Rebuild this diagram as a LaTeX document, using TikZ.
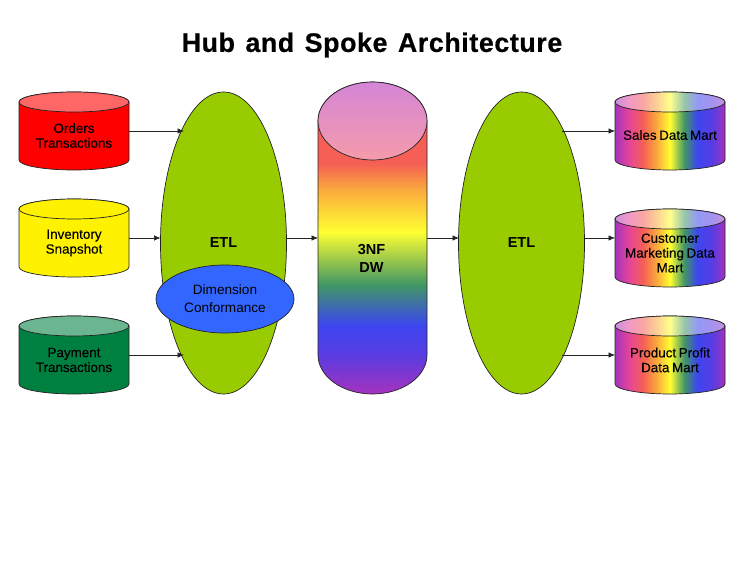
\documentclass[tikz,border=0pt]{standalone}
\usepackage{fontspec}
\setmainfont{Liberation Sans}
\newfontfamily\titlefont[LetterSpace=2.2,WordSpace=1.3,FakeBold=0.5]{Liberation Sans Bold}
\newfontfamily\labelfont[WordSpace=0.7,FakeBold=0.2]{Liberation Sans}
\usetikzlibrary{shapes.geometric,arrows.meta}
\definecolor{rbPurple}{RGB}{165,50,190}
\definecolor{rbPink}{RGB}{230,70,150}
\definecolor{rbRed}{RGB}{245,95,85}
\definecolor{rbOrange}{RGB}{250,170,60}
\definecolor{rbYellow}{RGB}{255,255,50}
\definecolor{rbGreen}{RGB}{65,150,100}
\definecolor{rbBlue}{RGB}{60,70,240}
\definecolor{rbViolet}{RGB}{90,60,225}
\definecolor{dwTopA}{RGB}{212,133,214}
\definecolor{dwTopB}{RGB}{245,155,170}
\definecolor{etlGreen}{RGB}{153,204,0}
\definecolor{confBlue}{RGB}{51,102,255}
\definecolor{payGreen}{RGB}{0,128,64}
\definecolor{outline}{RGB}{35,35,35}
\pgfdeclarehorizontalshading{martSide}{100bp}{color(0bp)=(rbPurple); color(25bp)=(rbPurple); color(31.7bp)=(rbPink); color(37.8bp)=(rbRed); color(44bp)=(rbOrange); color(50bp)=(rbYellow); color(56.5bp)=(rbGreen); color(62.5bp)=(rbBlue); color(69.5bp)=(rbViolet); color(75bp)=(rbPurple); color(100bp)=(rbPurple)}
\pgfdeclarehorizontalshading{martTop}{100bp}{color(0bp)=(rbPurple!55!white); color(25bp)=(rbPurple!55!white); color(31.7bp)=(rbPink!55!white); color(37.8bp)=(rbRed!55!white); color(44bp)=(rbOrange!55!white); color(50bp)=(rbYellow!55!white); color(56.5bp)=(rbGreen!55!white); color(62.5bp)=(rbBlue!55!white); color(69.5bp)=(rbViolet!55!white); color(75bp)=(rbPurple!55!white); color(100bp)=(rbPurple!55!white)}
\pgfdeclareverticalshading{dwSide}{100bp}{color(0bp)=(rbPurple); color(25bp)=(rbPurple); color(31.2bp)=(rbViolet); color(36bp)=(rbBlue); color(42.5bp)=(rbGreen); color(51bp)=(rbYellow); color(57.7bp)=(rbOrange); color(62bp)=(rbRed); color(75bp)=(rbRed); color(100bp)=(rbRed)}
\pgfdeclareverticalshading{dwTop}{100bp}{color(0bp)=(dwTopB); color(25bp)=(dwTopB); color(75bp)=(dwTopA); color(100bp)=(dwTopA)}
\tikzset{
  drumbox/.style={shape=rectangle, inner sep=0pt, outer sep=0pt},
  drumline/.style={draw=outline, line width=0.7pt},
  label11/.style={align=center, font=\fontsize{13.4}{14.8}\labelfont, inner sep=0pt},
  blob/.style={shape=ellipse, draw=outline, line width=0.7pt, fill=etlGreen, inner sep=0pt, outer sep=0pt, minimum width=126pt, minimum height=302pt, font=\fontsize{14.5}{18}\selectfont\bfseries},
  flow/.style={-{Latex[length=6.5pt,width=5.5pt]}, draw=outline, line width=0.7pt},
}
% name, x, y, half width, half height, end radius, side fill, top fill
\newcommand{\drum}[8]{%
  \node[drumbox, minimum width={2*#4}, minimum height={2*#5}] (#1) at (#2,#3) {};
  \path[drumline, #7] ({#2-#4},{#3+#5-#6}) -- ({#2-#4},{#3-#5+#6})
    arc[start angle=180, end angle=360, x radius=#4, y radius=#6]
    -- ({#2+#4},{#3+#5-#6})
    arc[start angle=0, end angle=180, x radius=#4, y radius=#6] -- cycle;
  \path[drumline, #8] (#2,{#3+#5-#6}) ellipse [x radius=#4, y radius=#6];
}
\begin{document}
\begin{tikzpicture}[x=1pt, y=1pt]
\useasboundingbox (0,0) rectangle (750,563);
\node[font=\fontsize{26.8}{28}\titlefont, inner sep=0pt] (title) at (372,518) {Hub and Spoke Architecture};

\drum{orders}{74}{432}{55}{39}{10}{fill=red}{fill=red!60!white}
\drum{inventory}{74}{325}{55}{39}{10}{fill=yellow}{fill=yellow}
\drum{payment}{74}{208}{55}{39}{10}{fill=payGreen}{fill=payGreen!58!white}
\drum{dw}{372.5}{325}{54.5}{156}{39}{shade, shading=dwSide}{shade, shading=dwTop}
\drum{sales}{670}{432}{55}{39}{10}{shade, shading=martSide}{shade, shading=martTop}
\drum{customer}{670}{315}{55}{39}{10}{shade, shading=martSide}{shade, shading=martTop}
\drum{product}{670}{208}{55}{39}{10}{shade, shading=martSide}{shade, shading=martTop}

\node[blob] (etlL) at (223.5,320) {ETL};
\node[blob] (etlR) at (521.5,320) {ETL};
\node[shape=ellipse, draw=outline, line width=0.7pt, fill=confBlue, inner sep=0pt, outer sep=0pt, minimum width=138pt, minimum height=68pt, align=center, font=\fontsize{13.6}{18}\selectfont] (conf) at (225,264) {Dimension\\Conformance};

\node[label11] (ordersT) at (74,427.5) {Orders\\Transactions};
\node[label11] (inventoryT) at (74,320) {Inventory\\Snapshot};
\node[label11] (paymentT) at (74,203) {Payment\\Transactions};
\node[align=center, inner sep=0pt, font=\fontsize{14.5}{18}\selectfont\bfseries] (dwT) at (371.5,305) {3NF\\DW};
\node[label11] (salesT) at (670,428) {Sales Data Mart};
\node[label11] (customerT) at (670,310) {Customer\\Marketing Data\\Mart};
\node[label11] (productT) at (670,203) {Product Profit\\Data Mart};

\coordinate (etlLa) at (184,432);
\coordinate (etlLb) at (160.5,325);
\coordinate (etlLc) at (184,208);
\coordinate (etlLd) at (286.5,325);
\coordinate (etlRa) at (562,432);
\coordinate (etlRb) at (459,325);
\coordinate (etlRc) at (584,325);
\coordinate (etlRd) at (562,208);
\coordinate (customerIn) at (615,325);

\path[flow] (orders.east) -- (etlLa);
\path[flow] (inventory.east) -- (etlLb);
\path[flow] (payment.east) -- (etlLc);
\path[flow] (etlLd) -- (dw.west);
\path[flow] (dw.east) -- (etlRb);
\path[flow] (etlRa) -- (sales.west);
\path[flow] (etlRc) -- (customerIn);
\path[flow] (etlRd) -- (product.west);
\end{tikzpicture}
\end{document}
